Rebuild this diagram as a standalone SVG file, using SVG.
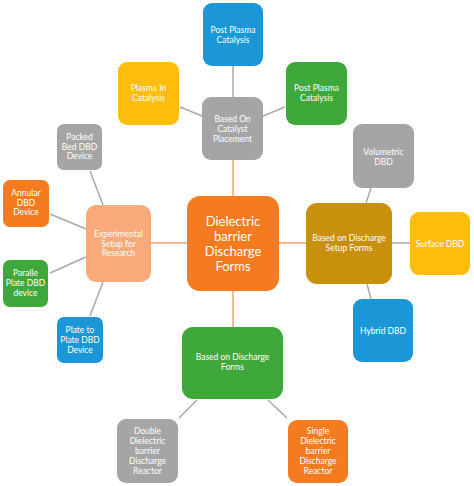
<svg xmlns="http://www.w3.org/2000/svg" width="474" height="486" viewBox="0 0 474 486">
<style>
.t{font-family:Lato,"Open Sans","Liberation Sans",sans-serif;font-size:8.5px;fill:#ffffff;text-anchor:middle;dominant-baseline:central}
.big{font-size:13px}
.g{stroke:#a9a9a9;stroke-width:1.5;fill:none}
.o{stroke:#f5a275;stroke-width:1.5;fill:none}
.blue{fill:#1b96d6}.green{fill:#3fa83b}.gray{fill:#a5a5a5}.yellow{fill:#fdbd0a}.orange{fill:#f47b20}.peach{fill:#f9aa7b}.gold{fill:#c8900c}
</style>
<rect width="474" height="486" fill="#ffffff"/>
<g id="connectors">
<line class="o" x1="233" y1="160" x2="233" y2="196"/>
<line class="o" x1="151" y1="243" x2="187" y2="243"/>
<line class="o" x1="279" y1="243" x2="306" y2="243"/>
<line class="o" x1="233" y1="291" x2="233" y2="327"/>
<line class="g" x1="233" y1="66" x2="233" y2="97"/>
<line class="g" x1="180" y1="107" x2="202" y2="116"/>
<line class="g" x1="285" y1="107" x2="263" y2="116"/>
<line class="g" x1="371" y1="188" x2="366" y2="203"/>
<line class="g" x1="392" y1="243" x2="410" y2="243"/>
<line class="g" x1="367" y1="284" x2="371" y2="299"/>
<line class="g" x1="90" y1="171" x2="103" y2="205"/>
<line class="g" x1="50" y1="214" x2="86" y2="229"/>
<line class="g" x1="50" y1="273" x2="86" y2="257"/>
<line class="g" x1="90" y1="316" x2="103" y2="282"/>
<line class="g" x1="197" y1="400" x2="179" y2="418"/>
<line class="g" x1="268" y1="400" x2="287" y2="418"/>
</g>
<g id="center">
<rect class="orange" x="187" y="196" width="92" height="95" rx="13"/>
<text class="t big" x="233" y="221">Dielectric</text>
<text class="t big" x="233" y="236">barrier</text>
<text class="t big" x="233" y="251">Discharge</text>
<text class="t big" x="233" y="266">Forms</text>
</g>
<g id="catalyst-placement">
<rect class="gray" x="202" y="97" width="61" height="63" rx="9"/>
<text class="t" x="232.5" y="119">Based On</text>
<text class="t" x="232.5" y="129">Catalyst</text>
<text class="t" x="232.5" y="138.5">Placement</text>
</g>
<g id="post-plasma-blue">
<rect class="blue" x="203" y="3" width="60" height="63" rx="9"/>
<text class="t" x="233" y="29.5">Post Plasma</text>
<text class="t" x="233" y="39.5">Catalysis</text>
</g>
<g id="plasma-in">
<rect class="yellow" x="118" y="62" width="61" height="63" rx="9"/>
<text class="t" x="148.5" y="88">Plasma In</text>
<text class="t" x="148.5" y="98">Catalysis</text>
</g>
<g id="post-plasma-green">
<rect class="green" x="286" y="62" width="61" height="63" rx="9"/>
<text class="t" x="316.5" y="88">Post Plasma</text>
<text class="t" x="316.5" y="98">Catalysis</text>
</g>
<g id="setup-forms">
<rect class="gold" x="306" y="203" width="86" height="81" rx="11"/>
<text class="t" x="349" y="238">Based on Discharge</text>
<text class="t" x="349" y="248">Setup Forms</text>
</g>
<g id="volumetric">
<rect class="gray" x="353" y="124" width="61" height="64" rx="9"/>
<text class="t" x="383.5" y="152">Volumetric</text>
<text class="t" x="383.5" y="162">DBD</text>
</g>
<g id="surface">
<rect class="yellow" x="410" y="212" width="60" height="63" rx="9"/>
<text class="t" x="440" y="243.5">Surface DBD</text>
</g>
<g id="hybrid">
<rect class="blue" x="353" y="299" width="60" height="63" rx="9"/>
<text class="t" x="383" y="331">Hybrid DBD</text>
</g>
<g id="discharge-forms">
<rect class="green" x="182" y="327" width="101" height="72" rx="11"/>
<text class="t" x="232.5" y="357">Based on Discharge</text>
<text class="t" x="232.5" y="367">Forms</text>
</g>
<g id="double">
<rect class="gray" x="117" y="419" width="61" height="64" rx="9"/>
<text class="t" x="147.5" y="431">Double</text>
<text class="t" x="147.5" y="441">Dielectric</text>
<text class="t" x="147.5" y="451">barrier</text>
<text class="t" x="147.5" y="461">Discharge</text>
<text class="t" x="147.5" y="471">Reactor</text>
</g>
<g id="single">
<rect class="orange" x="288" y="420" width="60" height="63" rx="9"/>
<text class="t" x="318" y="431">Single</text>
<text class="t" x="318" y="441">Dielectric</text>
<text class="t" x="318" y="451">barrier</text>
<text class="t" x="318" y="461">Discharge</text>
<text class="t" x="318" y="471">Reactor</text>
</g>
<g id="experimental">
<rect class="peach" x="86" y="205" width="65" height="77" rx="10"/>
<text class="t" x="118.5" y="234">Experimental</text>
<text class="t" x="118.5" y="243.5">Setup for</text>
<text class="t" x="118.5" y="253">Research</text>
</g>
<g id="packed-bed">
<rect class="gray" x="57" y="124" width="45" height="46" rx="7"/>
<text class="t" x="79.5" y="137">Packed</text>
<text class="t" x="79.5" y="147">Bed DBD</text>
<text class="t" x="79.5" y="156">Device</text>
</g>
<g id="annular">
<rect class="orange" x="3" y="180" width="46" height="47" rx="7"/>
<text class="t" x="26" y="193">Annular</text>
<text class="t" x="26" y="203">DBD</text>
<text class="t" x="26" y="212">Device</text>
</g>
<g id="paralle">
<rect class="green" x="3" y="260" width="45" height="47" rx="7"/>
<text class="t" x="25.5" y="273">Paralle</text>
<text class="t" x="25.5" y="283">Plate DBD</text>
<text class="t" x="25.5" y="293">device</text>
</g>
<g id="plate-to-plate">
<rect class="blue" x="57" y="317" width="46" height="46" rx="7"/>
<text class="t" x="80" y="330">Plate to</text>
<text class="t" x="80" y="340">Plate DBD</text>
<text class="t" x="80" y="350">Device</text>
</g>
</svg>
